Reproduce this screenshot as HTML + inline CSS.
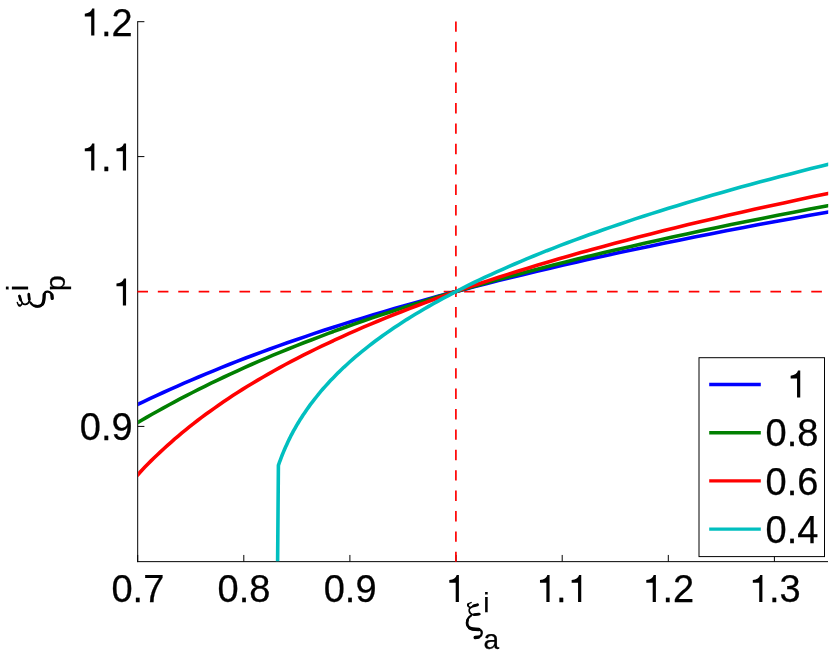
<!DOCTYPE html>
<html><head><meta charset="utf-8"><title>plot</title>
<style>
html,body{margin:0;padding:0;background:#fff;}
body{width:830px;height:655px;overflow:hidden;}
svg{display:block;}
text{font-family:"Liberation Sans",sans-serif;font-size:38.0px;fill:#000;stroke:#000;stroke-width:0.25px;}
</style></head><body>
<svg width="830" height="655" viewBox="0 0 830 655">
<rect width="830" height="655" fill="#fff"/>
<g opacity="0.999">
<defs><clipPath id="c"><rect x="138.1" y="21.7" width="690.1" height="539.65"/></clipPath></defs>
<g stroke="#000" stroke-width="1" fill="none">
<line x1="137.7" y1="21.2" x2="137.7" y2="562.15"/>
<line x1="137.2" y1="561.65" x2="828.0" y2="561.65"/>
<line x1="137.7" y1="561.65" x2="137.7" y2="554.9499999999999"/>
<line x1="243.8" y1="561.65" x2="243.8" y2="554.9499999999999"/>
<line x1="349.9" y1="561.65" x2="349.9" y2="554.9499999999999"/>
<line x1="456.1" y1="561.65" x2="456.1" y2="554.9499999999999"/>
<line x1="562.2" y1="561.65" x2="562.2" y2="554.9499999999999"/>
<line x1="668.3" y1="561.65" x2="668.3" y2="554.9499999999999"/>
<line x1="774.4" y1="561.65" x2="774.4" y2="554.9499999999999"/>
<line x1="137.7" y1="426.4" x2="144.39999999999998" y2="426.4"/>
<line x1="137.7" y1="291.5" x2="144.39999999999998" y2="291.5"/>
<line x1="137.7" y1="156.6" x2="144.39999999999998" y2="156.6"/>
<line x1="137.7" y1="21.7" x2="144.39999999999998" y2="21.7"/>
</g>
<g stroke="#ff0000" stroke-width="1.7" stroke-dasharray="10.4 10" fill="none">
<line x1="137.4" y1="291.55" x2="827.7" y2="291.55" stroke-dasharray="10.6 9.82"/>
<line x1="455.9" y1="21.4" x2="455.9" y2="561.65"/>
</g>
<g clip-path="url(#c)" fill="none" stroke-width="3.6" stroke-linejoin="round">
<path d="M845.0,209.1 L827.3,212.2 L809.8,215.3 L792.6,218.4 L775.6,221.5 L758.9,224.6 L742.5,227.7 L726.2,230.8 L710.3,233.9 L694.5,237.1 L679.1,240.2 L663.8,243.3 L648.8,246.4 L634.0,249.5 L619.5,252.6 L605.1,255.7 L591.0,258.8 L577.2,261.9 L563.5,265.0 L550.1,268.2 L536.9,271.3 L523.9,274.4 L511.1,277.5 L498.5,280.6 L486.2,283.7 L474.0,286.8 L462.1,289.9 L450.3,293.0 L438.8,296.1 L427.4,299.2 L416.2,302.4 L405.3,305.5 L394.5,308.6 L383.9,311.7 L373.4,314.8 L363.2,317.9 L353.1,321.0 L343.2,324.1 L333.5,327.2 L323.9,330.3 L314.5,333.4 L305.3,336.6 L296.2,339.7 L287.3,342.8 L278.6,345.9 L269.9,349.0 L261.5,352.1 L253.1,355.2 L245.0,358.3 L236.9,361.4 L229.0,364.5 L221.2,367.6 L213.5,370.8 L206.0,373.9 L198.6,377.0 L191.3,380.1 L184.1,383.2 L177.0,386.3 L170.1,389.4 L163.2,392.5 L156.4,395.6 L149.8,398.7 L143.2,401.8 L136.7,405.0 L130.3,408.1 L123.9,411.2 L117.7,414.3" stroke="#0000ff"/>
<path d="M843.2,202.9 L826.4,206.0 L810.0,209.1 L793.7,212.2 L777.7,215.3 L762.0,218.4 L746.4,221.5 L731.2,224.6 L716.1,227.7 L701.3,230.8 L686.8,233.9 L672.4,237.1 L658.3,240.2 L644.4,243.3 L630.8,246.4 L617.3,249.5 L604.1,252.6 L591.1,255.7 L578.3,258.8 L565.7,261.9 L553.4,265.0 L541.2,268.2 L529.2,271.3 L517.4,274.4 L505.9,277.5 L494.5,280.6 L483.3,283.7 L472.3,286.8 L461.5,289.9 L450.9,293.0 L440.4,296.1 L430.2,299.2 L420.1,302.4 L410.2,305.5 L400.4,308.6 L390.9,311.7 L381.4,314.8 L372.2,317.9 L363.1,321.0 L354.2,324.1 L345.4,327.2 L336.8,330.3 L328.4,333.4 L320.0,336.6 L311.9,339.7 L303.8,342.8 L296.0,345.9 L288.2,349.0 L280.6,352.1 L273.1,355.2 L265.7,358.3 L258.5,361.4 L251.4,364.5 L244.4,367.6 L237.5,370.8 L230.8,373.9 L224.1,377.0 L217.6,380.1 L211.1,383.2 L204.8,386.3 L198.6,389.4 L192.5,392.5 L186.4,395.6 L180.5,398.7 L174.6,401.8 L168.8,405.0 L163.1,408.1 L157.5,411.2 L152.0,414.3 L146.6,417.4 L141.2,420.5 L135.8,423.6 L130.6,426.7 L125.4,429.8 L120.3,432.9 L115.2,436.1" stroke="#008000"/>
<path d="M843.4,190.4 L828.1,193.5 L813.1,196.6 L798.3,199.7 L783.8,202.9 L769.5,206.0 L755.4,209.1 L741.5,212.2 L727.9,215.3 L714.5,218.4 L701.3,221.5 L688.3,224.6 L675.6,227.7 L663.0,230.8 L650.7,233.9 L638.5,237.1 L626.6,240.2 L614.8,243.3 L603.3,246.4 L591.9,249.5 L580.7,252.6 L569.8,255.7 L559.0,258.8 L548.3,261.9 L537.9,265.0 L527.7,268.2 L517.6,271.3 L507.7,274.4 L497.9,277.5 L488.4,280.6 L478.9,283.7 L469.7,286.8 L460.6,289.9 L451.7,293.0 L442.9,296.1 L434.3,299.2 L425.9,302.4 L417.6,305.5 L409.4,308.6 L401.4,311.7 L393.5,314.8 L385.8,317.9 L378.2,321.0 L370.7,324.1 L363.4,327.2 L356.2,330.3 L349.2,333.4 L342.3,336.6 L335.5,339.7 L328.8,342.8 L322.2,345.9 L315.8,349.0 L309.5,352.1 L303.3,355.2 L297.2,358.3 L291.3,361.4 L285.4,364.5 L279.7,367.6 L274.1,370.8 L268.6,373.9 L263.2,377.0 L257.8,380.1 L252.6,383.2 L247.5,386.3 L242.5,389.4 L237.6,392.5 L232.8,395.6 L228.1,398.7 L223.5,401.8 L218.9,405.0 L214.5,408.1 L210.1,411.2 L205.8,414.3 L201.6,417.4 L197.5,420.5 L193.5,423.6 L189.6,426.7 L185.7,429.8 L181.9,432.9 L178.2,436.1 L174.5,439.2 L171.0,442.3 L167.5,445.4 L164.1,448.5 L160.7,451.6 L157.4,454.7 L154.2,457.8 L151.0,460.9 L147.9,464.0 L144.9,467.1 L141.9,470.3 L139.0,473.4 L136.2,476.5 L133.4,479.6 L130.6,482.7 L127.9,485.8 L125.3,488.9 L122.7,492.0 L120.2,495.1 L117.7,498.2 L115.2,501.3 L112.9,504.5" stroke="#ff0000"/>
<path d="M843.2,160.6 L832.4,163.3 L821.7,165.9 L811.1,168.6 L800.7,171.2 L790.4,173.9 L780.2,176.5 L770.2,179.2 L760.3,181.8 L750.5,184.5 L740.9,187.1 L731.4,189.8 L722.0,192.4 L712.8,195.1 L703.6,197.7 L694.7,200.4 L685.8,203.0 L677.1,205.7 L668.5,208.3 L660.0,211.0 L651.6,213.6 L643.4,216.3 L635.2,218.9 L627.2,221.6 L619.4,224.2 L611.6,226.9 L603.9,229.5 L596.4,232.2 L589.0,234.8 L581.7,237.5 L574.5,240.1 L567.4,242.8 L560.4,245.4 L553.6,248.1 L546.8,250.7 L540.2,253.4 L533.7,256.0 L527.2,258.7 L520.9,261.3 L514.7,264.0 L508.6,266.6 L502.6,269.3 L496.7,271.9 L490.9,274.6 L485.1,277.2 L479.5,279.9 L474.0,282.5 L468.6,285.2 L463.3,287.8 L458.1,290.5 L452.9,293.1 L447.9,295.8 L442.9,298.4 L438.1,301.1 L433.3,303.7 L428.7,306.4 L424.1,309.0 L419.6,311.7 L415.2,314.3 L410.8,317.0 L406.6,319.6 L402.5,322.3 L398.4,324.9 L394.4,327.6 L390.5,330.2 L386.7,332.9 L382.9,335.5 L379.2,338.2 L375.7,340.8 L372.1,343.5 L368.7,346.1 L365.3,348.8 L362.1,351.4 L358.8,354.1 L355.7,356.7 L352.6,359.4 L349.6,362.0 L346.7,364.7 L343.8,367.3 L341.0,370.0 L338.3,372.6 L335.7,375.3 L333.1,377.9 L330.5,380.6 L328.1,383.2 L325.7,385.9 L323.3,388.5 L321.0,391.2 L318.8,393.8 L316.7,396.5 L314.6,399.1 L312.5,401.8 L310.5,404.4 L308.6,407.1 L306.7,409.7 L304.9,412.4 L303.1,415.0 L301.4,417.7 L299.7,420.3 L298.1,423.0 L296.5,425.6 L295.0,428.3 L293.5,430.9 L292.1,433.6 L290.7,436.2 L289.4,438.9 L288.1,441.5 L286.9,444.2 L285.7,446.8 L284.5,449.5 L283.4,452.1 L282.3,454.8 L281.3,457.4 L280.3,460.1 L279.3,462.7 L278.4,465.4 L277.6,562.5" stroke="#00bfbf"/>
</g>
<rect x="699" y="357.7" width="125.5" height="198.9" fill="#fff" stroke="#000" stroke-width="1"/>
<line x1="709.2" y1="384.5" x2="760.8" y2="384.5" stroke="#0000ff" stroke-width="3.4"/>
<path d="M800.24,397.60 L800.24,370.60 L798.04,370.60 C797.24,373.60 794.84,375.40 790.64,375.70 L790.64,378.40 L797.04,378.40 L797.04,397.60 Z" fill="#000"/>
<line x1="709.2" y1="432.7" x2="760.8" y2="432.7" stroke="#008000" stroke-width="3.4"/>
<text x="765.59" y="446.20" style="font-size:38.0px">0</text><text x="786.72" y="446.20" style="font-size:38.0px">.</text><text x="797.28" y="446.20" style="font-size:38.0px">8</text>
<line x1="709.2" y1="480.9" x2="760.8" y2="480.9" stroke="#ff0000" stroke-width="3.4"/>
<text x="765.59" y="494.70" style="font-size:38.0px">0</text><text x="786.72" y="494.70" style="font-size:38.0px">.</text><text x="797.28" y="494.70" style="font-size:38.0px">6</text>
<line x1="709.2" y1="529.1" x2="760.8" y2="529.1" stroke="#00bfbf" stroke-width="3.4"/>
<text x="765.59" y="543.20" style="font-size:38.0px">0</text><text x="786.72" y="543.20" style="font-size:38.0px">.</text><text x="797.28" y="543.20" style="font-size:38.0px">4</text>
<text x="111.49" y="601.90" style="font-size:38.0px">0</text><text x="132.62" y="601.90" style="font-size:38.0px">.</text><text x="143.18" y="601.90" style="font-size:38.0px">7</text>
<text x="217.61" y="601.90" style="font-size:38.0px">0</text><text x="238.74" y="601.90" style="font-size:38.0px">.</text><text x="249.30" y="601.90" style="font-size:38.0px">8</text>
<text x="323.73" y="601.90" style="font-size:38.0px">0</text><text x="344.86" y="601.90" style="font-size:38.0px">.</text><text x="355.42" y="601.90" style="font-size:38.0px">9</text>
<path d="M458.90,601.90 L458.90,574.90 L456.70,574.90 C455.90,577.90 453.50,579.70 449.30,580.00 L449.30,582.70 L455.70,582.70 L455.70,601.90 Z" fill="#000"/>
<path d="M549.57,601.90 L549.57,574.90 L547.37,574.90 C546.57,577.90 544.17,579.70 539.97,580.00 L539.97,582.70 L546.37,582.70 L546.37,601.90 Z" fill="#000"/><text x="556.10" y="601.90" style="font-size:38.0px">.</text><path d="M581.26,601.90 L581.26,574.90 L579.06,574.90 C578.26,577.90 575.86,579.70 571.66,580.00 L571.66,582.70 L578.06,582.70 L578.06,601.90 Z" fill="#000"/>
<path d="M655.89,601.90 L655.89,574.90 L653.69,574.90 C652.89,577.90 650.49,579.70 646.29,580.00 L646.29,582.70 L652.69,582.70 L652.69,601.90 Z" fill="#000"/><text x="662.42" y="601.90" style="font-size:38.0px">.</text><text x="672.98" y="601.90" style="font-size:38.0px">2</text>
<path d="M762.41,601.90 L762.41,574.90 L760.21,574.90 C759.41,577.90 757.01,579.70 752.81,580.00 L752.81,582.70 L759.21,582.70 L759.21,601.90 Z" fill="#000"/><text x="768.94" y="601.90" style="font-size:38.0px">.</text><text x="779.50" y="601.90" style="font-size:38.0px">3</text>
<text x="79.78" y="440.30" style="font-size:38.0px">0</text><text x="100.91" y="440.30" style="font-size:38.0px">.</text><text x="111.47" y="440.30" style="font-size:38.0px">9</text>
<path d="M126.07,305.40 L126.07,278.40 L123.87,278.40 C123.07,281.40 120.67,283.20 116.47,283.50 L116.47,286.20 L122.87,286.20 L122.87,305.40 Z" fill="#000"/>
<path d="M94.38,170.50 L94.38,143.50 L92.18,143.50 C91.38,146.50 88.98,148.30 84.78,148.60 L84.78,151.30 L91.18,151.30 L91.18,170.50 Z" fill="#000"/><text x="100.91" y="170.50" style="font-size:38.0px">.</text><path d="M126.07,170.50 L126.07,143.50 L123.87,143.50 C123.07,146.50 120.67,148.30 116.47,148.60 L116.47,151.30 L122.87,151.30 L122.87,170.50 Z" fill="#000"/>
<path d="M94.38,35.60 L94.38,8.60 L92.18,8.60 C91.38,11.60 88.98,13.40 84.78,13.70 L84.78,16.40 L91.18,16.40 L91.18,35.60 Z" fill="#000"/><text x="100.91" y="35.60" style="font-size:38.0px">.</text><text x="111.47" y="35.60" style="font-size:38.0px">2</text>
<g id="xlab">
<g id="xi" fill="none" stroke="#000" stroke-linecap="round" stroke-linejoin="round">
<path d="M471.1,602.6 C468.5,603.3 467.3,604.4 467.8,605.6 C468.2,606.5 469.3,607.1 470.4,607.7" stroke-width="1.5"/>
<path d="M468.3,604.2 L468.0,605.3" stroke-width="2.0"/>
<path d="M478.0,604.6 C475.0,605.2 472.5,606.2 470.4,607.7 C469.3,608.6 468.9,609.8 469.2,611.0 C469.6,612.8 470.8,614.2 472.8,614.7 C475.0,615.0 477.5,614.3 479.8,614.0" stroke-width="1.7"/>
<path d="M473.6,605.9 L477.4,604.8" stroke-width="2.8"/>
<path d="M474.2,614.6 L479.0,614.05" stroke-width="2.8"/>
<path d="M471.1,615.6 C468.6,617.2 466.9,619.8 466.8,622.8 C466.7,626.0 468.6,628.2 472.0,629.1 C474.0,629.6 476.5,629.3 478.6,629.5 C480.9,629.8 482.0,631.2 481.8,633.2 C481.5,636.2 478.8,637.7 474.9,637.6" stroke-width="2.2"/>
<path d="M467.7,620.0 C466.9,622.5 467.2,625.4 469.0,627.4" stroke-width="2.5"/>
<path d="M469.6,627.9 C471.0,629.0 474.0,629.4 479.0,629.5" stroke-width="3.3"/>
<path d="M475.2,637.5 L478.6,637.2" stroke-width="3.3"/>
</g>
<text x="483.3" y="611.8" style="font-size:28.0px">i</text>
<text x="483.5" y="649.1" style="font-size:28.0px">a</text>
</g>
<g id="ylab">
<g transform="translate(-585.3,773.5) rotate(-90)"><g fill="none" stroke="#000" stroke-linecap="round" stroke-linejoin="round">
<path d="M471.1,602.6 C468.5,603.3 467.3,604.4 467.8,605.6 C468.2,606.5 469.3,607.1 470.4,607.7" stroke-width="1.5"/>
<path d="M468.3,604.2 L468.0,605.3" stroke-width="2.0"/>
<path d="M478.0,604.6 C475.0,605.2 472.5,606.2 470.4,607.7 C469.3,608.6 468.9,609.8 469.2,611.0 C469.6,612.8 470.8,614.2 472.8,614.7 C475.0,615.0 477.5,614.3 479.8,614.0" stroke-width="1.7"/>
<path d="M473.6,605.9 L477.4,604.8" stroke-width="2.8"/>
<path d="M474.2,614.6 L479.0,614.05" stroke-width="2.8"/>
<path d="M471.1,615.6 C468.6,617.2 466.9,619.8 466.8,622.8 C466.7,626.0 468.6,628.2 472.0,629.1 C474.0,629.6 476.5,629.3 478.6,629.5 C480.9,629.8 482.0,631.2 481.8,633.2 C481.5,636.2 478.8,637.7 474.9,637.6" stroke-width="2.2"/>
<path d="M467.7,620.0 C466.9,622.5 467.2,625.4 469.0,627.4" stroke-width="2.5"/>
<path d="M469.6,627.9 C471.0,629.0 474.0,629.4 479.0,629.5" stroke-width="3.3"/>
<path d="M475.2,637.5 L478.6,637.2" stroke-width="3.3"/>
</g></g>
<g transform="rotate(-90)">
<text x="-291.3" y="27.9" style="font-size:29px">i</text>
<text x="-291.1" y="65.0" style="font-size:28px">p</text>
</g>
</g>
</g>
</svg>
</body></html>
